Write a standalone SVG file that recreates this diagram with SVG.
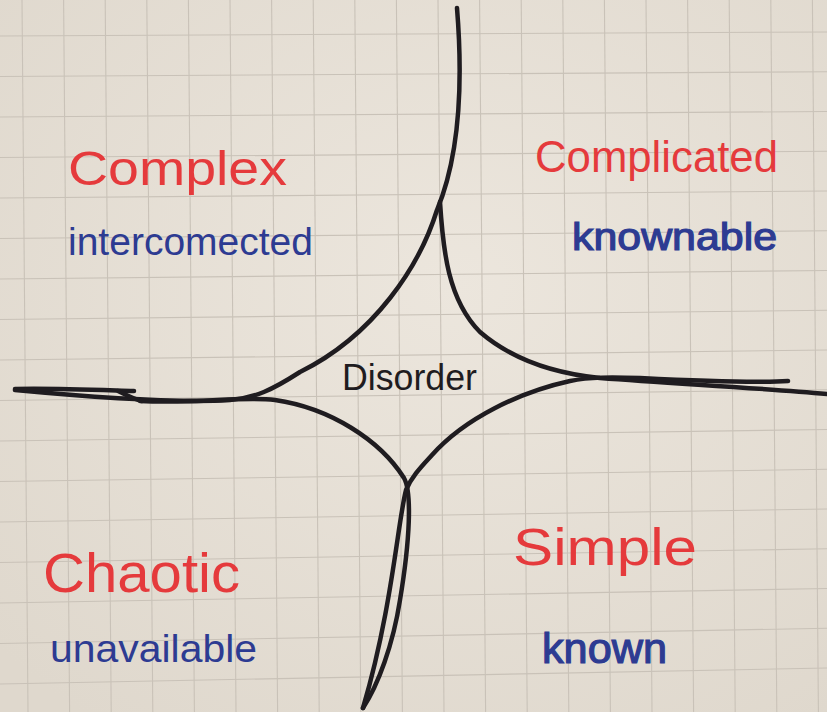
<svg xmlns="http://www.w3.org/2000/svg" width="827" height="712" viewBox="0 0 827 712">
<defs>
<radialGradient id="paper" cx="55%" cy="40%" r="75%">
<stop offset="0" stop-color="#ece6dd"/>
<stop offset="1" stop-color="#dfd8cd"/>
</radialGradient>
</defs>
<style>
.g line{stroke:#c9c2b8;stroke-width:1.1}
.ink{fill:none;stroke:#1f1c20;stroke-width:4.5;stroke-linecap:round;stroke-linejoin:round}
.t{font-family:"Liberation Sans",Arial,sans-serif}
.red{fill:#e53a3c}
.blue{fill:#2d3b92}
.bold{stroke:#2d3b92;stroke-width:1.2}
.blk{fill:#1f1c20}
</style>
<rect width="827" height="712" fill="url(#paper)"/>
<g class="g" id="grid">
<line x1="22" y1="0" x2="28" y2="712"/>
<line x1="63.6" y1="0" x2="69.6" y2="712"/>
<line x1="105.2" y1="0" x2="111.2" y2="712"/>
<line x1="146.8" y1="0" x2="152.8" y2="712"/>
<line x1="188.4" y1="0" x2="194.4" y2="712"/>
<line x1="230" y1="0" x2="236" y2="712"/>
<line x1="271.6" y1="0" x2="277.6" y2="712"/>
<line x1="313.2" y1="0" x2="319.2" y2="712"/>
<line x1="354.8" y1="0" x2="360.8" y2="712"/>
<line x1="396.4" y1="0" x2="402.4" y2="712"/>
<line x1="438" y1="0" x2="444" y2="712"/>
<line x1="479.6" y1="0" x2="485.6" y2="712"/>
<line x1="521.2" y1="0" x2="527.2" y2="712"/>
<line x1="562.8" y1="0" x2="568.8" y2="712"/>
<line x1="604.4" y1="0" x2="610.4" y2="712"/>
<line x1="646" y1="0" x2="652" y2="712"/>
<line x1="687.6" y1="0" x2="693.6" y2="712"/>
<line x1="729.2" y1="0" x2="735.2" y2="712"/>
<line x1="770.8" y1="0" x2="776.8" y2="712"/>
<line x1="812.4" y1="0" x2="818.4" y2="712"/>
<line x1="0" y1="36" x2="827" y2="32"/>
<line x1="0" y1="76.5" x2="827" y2="71.75"/>
<line x1="0" y1="117" x2="827" y2="111.5"/>
<line x1="0" y1="157.5" x2="827" y2="151.25"/>
<line x1="0" y1="198" x2="827" y2="191"/>
<line x1="0" y1="238.5" x2="827" y2="230.75"/>
<line x1="0" y1="279" x2="827" y2="270.5"/>
<line x1="0" y1="319.5" x2="827" y2="310.25"/>
<line x1="0" y1="360" x2="827" y2="350"/>
<line x1="0" y1="400.5" x2="827" y2="389.75"/>
<line x1="0" y1="441" x2="827" y2="429.5"/>
<line x1="0" y1="481.5" x2="827" y2="469.25"/>
<line x1="0" y1="522" x2="827" y2="509"/>
<line x1="0" y1="562.5" x2="827" y2="548.75"/>
<line x1="0" y1="603" x2="827" y2="588.5"/>
<line x1="0" y1="643.5" x2="827" y2="628.25"/>
<line x1="0" y1="684" x2="827" y2="668"/>
</g>
<g id="connectors">
<path class="ink" d="M457,8 C462,70 462,150 437,210 C420,265 375,335 300,372 C272,390 255,398 230,400 C180,403 100,398 15,390"/>
<path class="ink" d="M15,389 C50,388 100,390 134,391"/>
<path class="ink" d="M118,391 C125,394 131,398 142,401"/>
<path class="ink" d="M140,401 C200,404 240,396 275,400 C330,408 380,440 404,478 C412,492 410,540 400,600 C393,645 378,685 363,708"/>
<path class="ink" d="M440,202 C443,250 448,300 480,332 C515,362 560,374 600,378 C680,384 760,388 827,394"/>
<path class="ink" d="M788,381 C760,383 700,381 640,378 C610,377 590,377 570,381 C520,392 465,418 432,455 C422,466 412,476 406,490 C398,520 392,610 363,708"/>
</g>
<g id="complex">
<text class="t red" x="68" y="185" font-size="48" textLength="219" lengthAdjust="spacingAndGlyphs">Complex</text>
<text class="t blue" x="68" y="255" font-size="38" textLength="245" lengthAdjust="spacingAndGlyphs">intercomected</text>
</g>
<g id="complicated">
<text class="t red" x="535" y="172" font-size="44" textLength="243" lengthAdjust="spacingAndGlyphs">Complicated</text>
<text class="t blue bold" x="572" y="250" font-size="38" textLength="205" lengthAdjust="spacingAndGlyphs">knownable</text>
</g>
<g id="chaotic">
<text class="t red" x="43" y="592" font-size="56" textLength="197" lengthAdjust="spacingAndGlyphs">Chaotic</text>
<text class="t blue" x="50" y="662" font-size="38" textLength="207" lengthAdjust="spacingAndGlyphs">unavailable</text>
</g>
<g id="simple">
<text class="t red" x="513" y="565" font-size="52" textLength="184" lengthAdjust="spacingAndGlyphs">Simple</text>
<text class="t blue bold" x="542" y="663" font-size="42" textLength="125" lengthAdjust="spacingAndGlyphs">known</text>
</g>
<g id="disorder">
<text class="t blk" x="342" y="390" font-size="36" textLength="135" lengthAdjust="spacingAndGlyphs">Disorder</text>
</g>
</svg>
